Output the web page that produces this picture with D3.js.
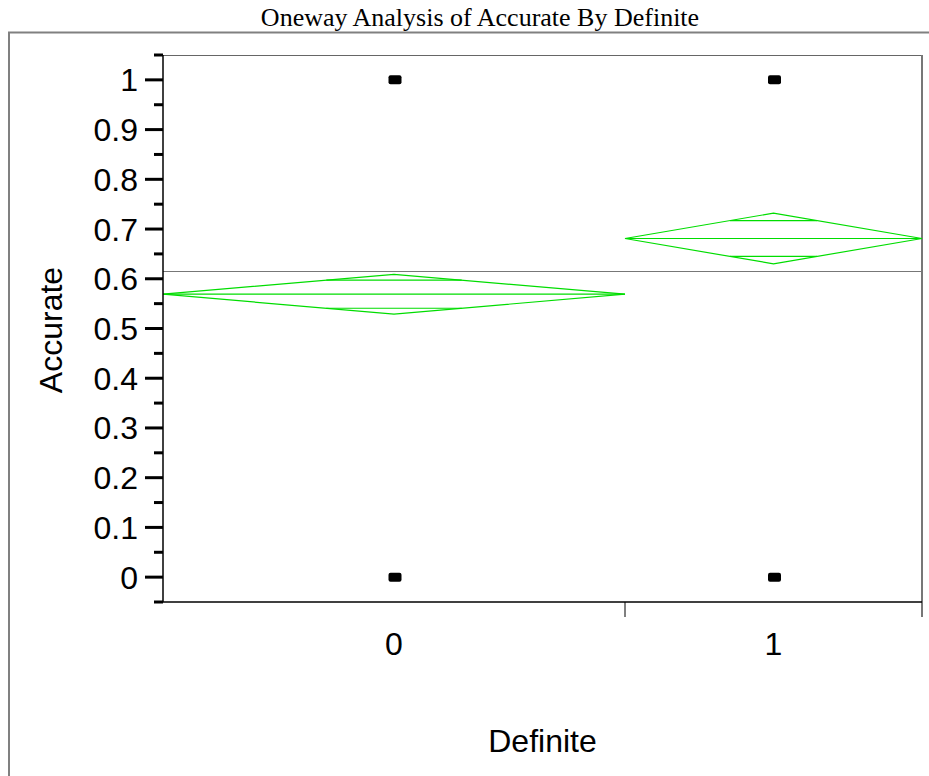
<!DOCTYPE html>
<html>
<head>
<meta charset="utf-8">
<script src="https://cdn.jsdelivr.net/npm/d3@7/dist/d3.min.js"></script>
<style>
  body { margin: 0; background: #fff; }
  svg { display: block; }
</style>
</head>
<body>
<svg id="chart" width="929" height="776"></svg>
<script>
// data
var groups = ["0", "1"];
var groupCounts = [84, 54];          // widths of the x bands follow group size
var groupMeans = [0.569, 0.681];
var ciHalf = [0.040, 0.051];         // 95% diamond half-heights
var grandMean = 0.616;
var pointValues = [[0, 1], [0, 1]];  // observed Accurate values per group
var yTicks = [0, 0.1, 0.2, 0.3, 0.4, 0.5, 0.6, 0.7, 0.8, 0.9, 1];

var svg = d3.select("#chart");
var plotL = 163, plotR = 922, plotT = 55, plotB = 602;
var green = "#00dd00";

// outer frame
svg.append("rect")
    .attr("x", 9).attr("y", 32.5)
    .attr("width", 940).attr("height", 760)
    .attr("fill", "none")
    .attr("stroke", "#808080")
    .attr("stroke-width", 2);

svg.append("text")
    .attr("x", 480).attr("y", 26)
    .attr("text-anchor", "middle")
    .style("font", "26px 'Liberation Serif', 'Times New Roman', serif")
    .text("Oneway Analysis of Accurate By Definite");

var y = d3.scaleLinear().domain([-0.05, 1.05]).range([plotB, plotT]);

var total = d3.sum(groupCounts);
var x = d3.scaleLinear().domain([0, total]).range([plotL, plotR]);
var cum = [0];
groupCounts.forEach(function(c, i) { cum.push(cum[i] + c); });
var bands = groups.map(function(g, i) {
    return {name: g, x0: x(cum[i]), x1: x(cum[i + 1]), mean: groupMeans[i], ci: ciHalf[i], pts: pointValues[i]};
});

var g = svg.append("g");

// plot border (top and right)
g.append("line")
    .attr("x1", plotL).attr("x2", plotR).attr("y1", plotT + 0.5).attr("y2", plotT + 0.5)
    .attr("stroke", "#666").attr("stroke-width", 1);
g.append("line")
    .attr("x1", plotR).attr("x2", plotR).attr("y1", plotT).attr("y2", plotB + 15)
    .attr("stroke", "#777").attr("stroke-width", 2);

// grand mean line
g.append("line")
    .attr("x1", plotL).attr("x2", plotR)
    .attr("y1", Math.round(y(grandMean)) + 0.5).attr("y2", Math.round(y(grandMean)) + 0.5)
    .attr("stroke", "#777").attr("stroke-width", 1);

// means diamonds
var k = 1 / Math.SQRT2;
bands.forEach(function(b) {
    var xc = (b.x0 + b.x1) / 2, w = b.x1 - b.x0;
    var pts = [[b.x0, y(b.mean)], [xc, y(b.mean + b.ci)], [b.x1, y(b.mean)], [xc, y(b.mean - b.ci)]];
    g.append("path")
        .attr("d", d3.line()(pts) + "Z")
        .attr("fill", "none").attr("stroke", green).attr("stroke-width", 1.2);
    g.append("line")
        .attr("x1", b.x0).attr("x2", b.x1).attr("y1", y(b.mean)).attr("y2", y(b.mean))
        .attr("stroke", green).attr("stroke-width", 1.2);
    [1, -1].forEach(function(s) {
        var half = w / 2 * (1 - k);
        g.append("line")
            .attr("x1", xc - half).attr("x2", xc + half)
            .attr("y1", y(b.mean + s * b.ci * k)).attr("y2", y(b.mean + s * b.ci * k))
            .attr("stroke", green).attr("stroke-width", 1.2);
    });
    // points
    g.selectAll(null).data(b.pts).enter().append("rect")
        .attr("x", xc - 5.5).attr("y", function(d) { return y(d) - 4.5; })
        .attr("width", 13).attr("height", 9).attr("rx", 2)
        .attr("fill", "#000");
});

// y axis
var yAxis = g.append("g").attr("transform", "translate(" + plotL + ",0)");
yAxis.append("line")
    .attr("x1", 0).attr("x2", 0).attr("y1", plotT).attr("y2", plotB)
    .attr("stroke", "#000").attr("stroke-width", 1.5);
var minor = d3.range(-0.05, 1.06, 0.1).map(function(v) { return +v.toFixed(2); });
yAxis.selectAll(".minor").data(minor).enter().append("line")
    .attr("x1", -9).attr("x2", 0)
    .attr("y1", function(d) { return y(d); }).attr("y2", function(d) { return y(d); })
    .attr("stroke", "#000").attr("stroke-width", 3);
yAxis.selectAll(".major").data(yTicks).enter().append("line")
    .attr("x1", -18).attr("x2", 0)
    .attr("y1", function(d) { return y(d); }).attr("y2", function(d) { return y(d); })
    .attr("stroke", "#000").attr("stroke-width", 3);
yAxis.selectAll(".lab").data(yTicks).enter().append("text")
    .attr("x", -25).attr("y", function(d) { return y(d) + 11.5; })
    .attr("text-anchor", "end")
    .style("font", "32px 'Liberation Sans', Arial, sans-serif")
    .text(function(d) { return d3.format("")(d); });

svg.append("text")
    .attr("transform", "translate(62,330) rotate(-90)")
    .attr("text-anchor", "middle")
    .style("font", "32px 'Liberation Sans', Arial, sans-serif")
    .text("Accurate");

// x axis
var xAxis = g.append("g");
xAxis.append("line")
    .attr("x1", plotL).attr("x2", plotR).attr("y1", plotB).attr("y2", plotB)
    .attr("stroke", "#000").attr("stroke-width", 1.5);
xAxis.selectAll(".xt").data(bands.slice(0, -1)).enter().append("line")
    .attr("x1", function(d) { return d.x1; }).attr("x2", function(d) { return d.x1; })
    .attr("y1", plotB).attr("y2", plotB + 15)
    .attr("stroke", "#000").attr("stroke-width", 1);
xAxis.selectAll(".xl").data(bands).enter().append("text")
    .attr("x", function(d) { return (d.x0 + d.x1) / 2; })
    .attr("y", 655)
    .attr("text-anchor", "middle")
    .style("font", "32px 'Liberation Sans', Arial, sans-serif")
    .text(function(d) { return d.name; });

svg.append("text")
    .attr("x", (plotL + plotR) / 2).attr("y", 752)
    .attr("text-anchor", "middle")
    .style("font", "32px 'Liberation Sans', Arial, sans-serif")
    .text("Definite");
</script>
</body>
</html>
